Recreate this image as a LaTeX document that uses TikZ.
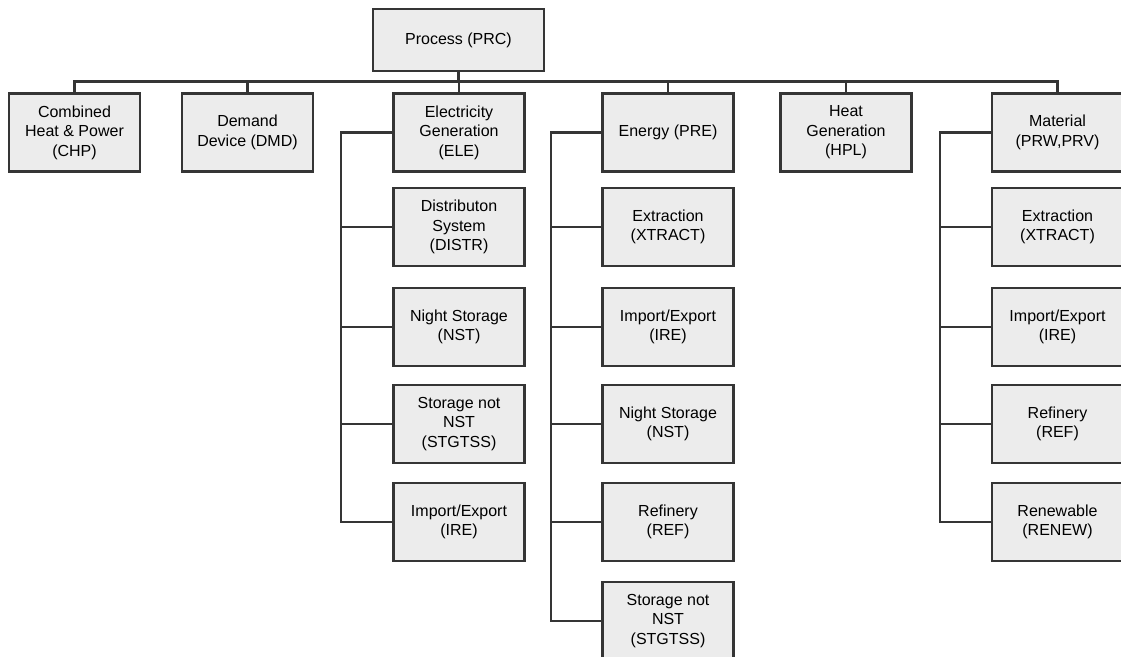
\documentclass[tikz,border=0pt]{standalone}
\usepackage{fontspec}
\setmainfont{Liberation Sans}
\definecolor{boxline}{HTML}{353535}
\definecolor{boxfill}{HTML}{ECECEC}
\begin{document}
\begin{tikzpicture}[x=1pt,y=-1pt,
  box/.style={draw=boxline, fill=boxfill, line width=2.6pt,
    minimum width=131pt, minimum height=78pt, inner sep=0pt,
    align=center, font=\fontsize{16}{19.5}\selectfont},
  link/.style={draw=boxline, line width=2.3pt}]
\useasboundingbox (0,0) rectangle (1121,656);
\clip (0,0) rectangle (1121,656);

% bus and trunk positions
\coordinate (bus) at (0,81.5);
\coordinate (eletrunk) at (341,0);
\coordinate (pretrunk) at (551,0);
\coordinate (mattrunk) at (940,0);

% root
\node[box, minimum width=171pt, minimum height=62pt] (prc) at (458.5,40) {Process (PRC)};

% first level
\node[box] (chp) at (74.5,132.5) {Combined\\Heat \& Power\\(CHP)};
\node[box] (dmd) at (247.5,132.5) {Demand\\Device (DMD)};
\node[box] (ele) at (459,132.5) {Electricity\\Generation\\(ELE)};
\node[box] (pre) at (668,132.5) {Energy (PRE)};
\node[box] (hpl) at (846,132.5) {Heat\\Generation\\(HPL)};
\node[box] (mat) at (1057.5,132.5) {Material\\(PRW,PRV)};

% electricity generation branch
\node[box] (ele1) at (459,227) {Distributon\\System\\(DISTR)};
\node[box] (ele2) at (459,327) {Night Storage\\(NST)};
\node[box] (ele3) at (459,424) {Storage not\\NST\\(STGTSS)};
\node[box] (ele4) at (459,522) {Import/Export\\(IRE)};

% energy branch
\node[box] (pre1) at (668,227) {Extraction\\(XTRACT)};
\node[box] (pre2) at (668,327) {Import/Export\\(IRE)};
\node[box] (pre3) at (668,424) {Night Storage\\(NST)};
\node[box] (pre4) at (668,522) {Refinery\\(REF)};
\node[box] (pre5) at (668,621) {Storage not\\NST\\(STGTSS)};

% material branch
\node[box] (mat1) at (1057.5,227) {Extraction\\(XTRACT)};
\node[box] (mat2) at (1057.5,327) {Import/Export\\(IRE)};
\node[box] (mat3) at (1057.5,424) {Refinery\\(REF)};
\node[box] (mat4) at (1057.5,522) {Renewable\\(RENEW)};

% connectors
\foreach \n in {chp,dmd,ele,pre,hpl,mat}
  \draw[link] (prc.south) -- (prc.south |- bus) -| (\n.north);
\foreach \n in {ele1,ele2,ele3,ele4}
  \draw[link] (ele.west) -- (ele.west -| eletrunk) |- (\n.west);
\foreach \n in {pre1,pre2,pre3,pre4,pre5}
  \draw[link] (pre.west) -- (pre.west -| pretrunk) |- (\n.west);
\foreach \n in {mat1,mat2,mat3,mat4}
  \draw[link] (mat.west) -- (mat.west -| mattrunk) |- (\n.west);
\end{tikzpicture}
\end{document}
